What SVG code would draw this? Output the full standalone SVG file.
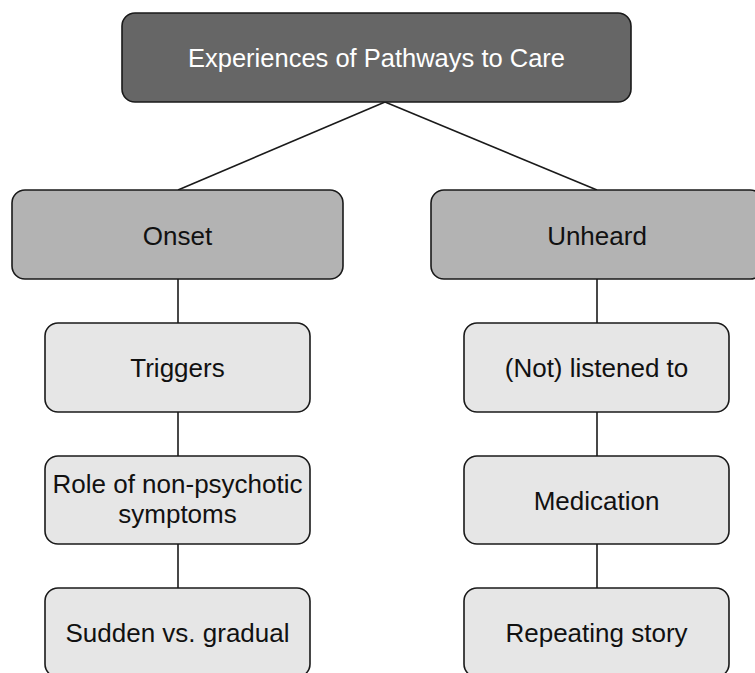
<svg xmlns="http://www.w3.org/2000/svg" width="755" height="673" viewBox="0 0 755 673">
<style>
.box{stroke:#1a1a1a;stroke-width:1.6}
.root{fill:#666666}
.mid{fill:#b3b3b3}
.leaf{fill:#e6e6e6}
text{font-family:"Liberation Sans",Arial,Helvetica,sans-serif;font-size:26px;text-anchor:middle;fill:#111}
.light{fill:#ffffff;font-size:25.5px}
.edge{stroke:#1a1a1a;stroke-width:1.6;fill:none}
</style>
<rect width="755" height="673" fill="#ffffff"/>
<g id="connectors">
<line class="edge" x1="385" y1="102" x2="178" y2="190"/>
<line class="edge" x1="385" y1="102" x2="597" y2="190"/>
<line class="edge" x1="178" y1="279" x2="178" y2="323"/>
<line class="edge" x1="178" y1="412" x2="178" y2="456"/>
<line class="edge" x1="178" y1="544" x2="178" y2="588"/>
<line class="edge" x1="597" y1="279" x2="597" y2="323"/>
<line class="edge" x1="597" y1="412" x2="597" y2="456"/>
<line class="edge" x1="597" y1="544" x2="597" y2="588"/>
</g>
<g id="root">
<rect class="box root" x="122" y="13" width="509" height="89" rx="13"/>
<text class="light" x="376.5" y="67">Experiences of Pathways to Care</text>
</g>
<g id="onset">
<rect class="box mid" x="12" y="190" width="331" height="89" rx="13"/>
<text x="177.5" y="244.5">Onset</text>
</g>
<g id="unheard">
<rect class="box mid" x="431" y="190" width="332" height="89" rx="13"/>
<text x="597" y="244.5">Unheard</text>
</g>
<g id="triggers">
<rect class="box leaf" x="45" y="323" width="265" height="89" rx="13"/>
<text x="177.5" y="377">Triggers</text>
</g>
<g id="role">
<rect class="box leaf" x="45" y="456" width="265" height="88" rx="13"/>
<text x="177.5" y="493">Role of non-psychotic</text>
<text x="177.5" y="523">symptoms</text>
</g>
<g id="sudden">
<rect class="box leaf" x="45" y="588" width="265" height="89" rx="13"/>
<text x="177.5" y="642">Sudden vs. gradual</text>
</g>
<g id="listened">
<rect class="box leaf" x="464" y="323" width="265" height="89" rx="13"/>
<text x="596.5" y="377">(Not) listened to</text>
</g>
<g id="medication">
<rect class="box leaf" x="464" y="456" width="265" height="88" rx="13"/>
<text x="596.5" y="509.5">Medication</text>
</g>
<g id="repeating">
<rect class="box leaf" x="464" y="588" width="265" height="89" rx="13"/>
<text x="596.5" y="642">Repeating story</text>
</g>
</svg>
